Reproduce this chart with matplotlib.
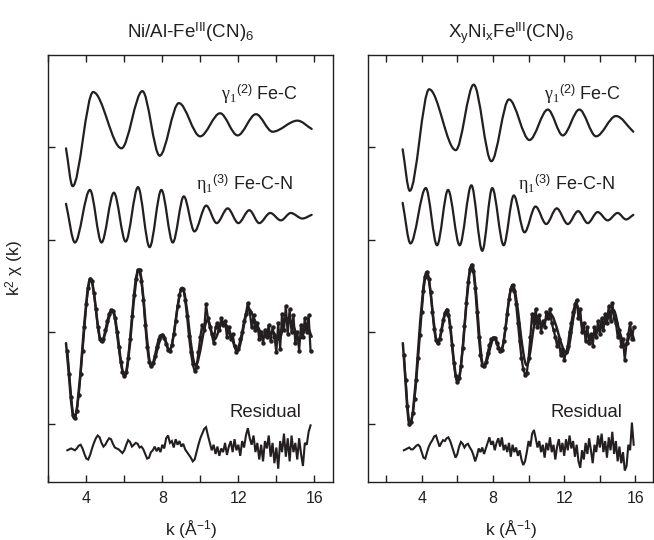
import numpy as np
import matplotlib
matplotlib.use("Agg")
import matplotlib.pyplot as plt
from matplotlib.path import Path
from matplotlib.patches import PathPatch
from matplotlib.ticker import FixedLocator, NullFormatter

plt.rcParams['font.family'] = ['Liberation Sans', 'DejaVu Sans']
plt.rcParams['mathtext.fontset'] = 'custom'
plt.rcParams['mathtext.rm'] = 'Liberation Serif'
plt.rcParams['mathtext.it'] = 'Liberation Serif:italic'
plt.rcParams['mathtext.sf'] = 'Liberation Sans'
plt.rcParams['mathtext.bf'] = 'Liberation Sans:bold'

INK = '#231f20'

# ---------------- Ni/Al-Fe(III)(CN)6 ----------------
# single-scattering Fe-C path (k, offset chi)
gamma_L_k = [2.93, 3.28, 4.36, 5.85, 6.95, 7.86, 8.87, 9.99, 11.04, 11.96, 12.93, 13.80, 15.11, 15.86]
gamma_L_y = [2.99, 2.58, 3.60, 2.99, 3.61, 2.91, 3.48, 3.12, 3.37, 3.13, 3.36, 3.17, 3.29, 3.20]
# multiple-scattering Fe-C-N path
eta_L_k = [2.93, 3.40, 4.19, 4.80, 5.45, 6.07, 6.72, 7.33, 7.95, 8.55, 9.13, 9.69, 10.31,
           10.86, 11.44, 12.00, 12.58, 13.10, 13.68, 14.24, 14.76, 15.37, 15.86]
eta_L_y = [2.39, 1.97, 2.54, 1.97, 2.51, 1.98, 2.57, 1.92, 2.54, 1.97, 2.47, 2.09, 2.37,
           2.18, 2.34, 2.18, 2.32, 2.18, 2.29, 2.21, 2.29, 2.23, 2.27]
# total fit
fit_L_k = [2.93, 3.36, 4.22, 4.80, 5.38, 6.02, 6.77, 7.42, 8.03, 8.38, 9.05, 9.75, 10.39,
           10.74, 11.18, 11.45, 11.96, 12.54, 12.93, 13.36, 13.80, 14.15, 14.50, 14.86,
           15.20, 15.63, 15.86]
fit_L_y = [0.88, 0.065, 1.58, 0.895, 1.24, 0.52, 1.68, 0.63, 0.97, 0.80, 1.48, 0.64, 1.13,
           0.92, 1.11, 1.05, 0.80, 1.25, 1.10, 0.95, 1.00, 0.92, 1.15, 1.08,
           0.92, 1.05, 0.95]
# measured k^2 chi, 0.1 A^-1 steps from k = 3.0
data_L = [0.80, 0.55, 0.30, 0.10, 0.07, 0.15, 0.32, 0.55, 0.80, 1.06,
          1.30, 1.48, 1.58, 1.55, 1.42, 1.25, 1.06, 0.93, 0.90, 0.93,
          1.02, 1.12, 1.20, 1.24, 1.23, 1.15, 1.00, 0.84, 0.68, 0.57,
          0.52, 0.57, 0.72, 0.93, 1.17, 1.40, 1.58, 1.67, 1.67, 1.55,
          1.35, 1.08, 0.84, 0.68, 0.63, 0.66, 0.74, 0.84, 0.92, 0.96,
          0.97, 0.94, 0.87, 0.81, 0.80, 0.86, 0.98, 1.12, 1.28, 1.40,
          1.47, 1.47, 1.35, 1.17, 0.96, 0.78, 0.65, 0.58, 0.62, 0.78,
          0.95, 1.08, 1.02, 1.30, 1.15, 1.05, 0.98, 0.88, 1.05, 1.10,
          1.02, 1.15, 1.08, 1.12, 0.95, 1.05, 0.92, 0.98, 0.85, 0.78,
          0.82, 0.92, 1.00, 1.12, 1.20, 1.32, 1.22, 1.05, 1.18, 1.02,
          1.10, 0.92, 1.00, 0.88, 1.02, 0.95, 1.08, 0.90, 1.05, 0.95,
          0.78, 1.10, 0.82, 1.20, 1.02, 1.28, 0.98, 1.25, 1.00, 1.18,
          0.88, 1.00, 0.80, 1.08, 0.95, 1.15, 1.00, 1.18, 0.80]
resid_L = [-0.28, -0.27, -0.26, -0.27, -0.28, -0.26, -0.23, -0.22, -0.26, -0.32,
           -0.37, -0.38, -0.33, -0.26, -0.20, -0.15, -0.12, -0.14, -0.20, -0.24,
           -0.22, -0.18, -0.15, -0.16, -0.21, -0.25, -0.26, -0.27, -0.29, -0.31,
           -0.28, -0.22, -0.17, -0.19, -0.24, -0.22, -0.20, -0.21, -0.25, -0.24,
           -0.27, -0.32, -0.37, -0.36, -0.30, -0.28, -0.24, -0.29, -0.25, -0.30,
           -0.22, -0.26, -0.15, -0.12, -0.20, -0.18, -0.25, -0.16, -0.22, -0.18,
           -0.24, -0.21, -0.27, -0.30, -0.33, -0.36, -0.40, -0.38, -0.30, -0.22,
           -0.15, -0.10, -0.05, -0.03, -0.12, -0.20, -0.28, -0.22, -0.32, -0.24,
           -0.34, -0.26, -0.30, -0.20, -0.33, -0.24, -0.18, -0.30, -0.16, -0.28,
           -0.22, -0.34, -0.18, -0.25, -0.12, -0.04, -0.15, -0.22, -0.12, -0.30,
           -0.20, -0.38, -0.22, -0.40, -0.18, -0.26, -0.12, -0.35, -0.20, -0.42,
           -0.25, -0.48, -0.18, -0.30, -0.10, -0.35, -0.15, -0.40, -0.12, -0.30,
           -0.20, -0.38, -0.15, -0.32, -0.45, -0.20, -0.22, -0.08, -0.01]

# ---------------- XyNixFe(III)(CN)6 ----------------
gamma_R_k = [2.93, 3.33, 4.42, 5.91, 6.92, 7.91, 8.90, 10.05, 11.08, 11.92, 12.85, 13.79, 14.91, 15.88]
gamma_R_y = [2.98, 2.53, 3.63, 2.97, 3.68, 2.85, 3.52, 3.08, 3.41, 3.13, 3.41, 3.12, 3.34, 3.17]
eta_R_k = [2.93, 3.37, 4.23, 4.86, 5.48, 6.13, 6.79, 7.40, 7.96, 8.60, 9.17, 9.77, 10.39,
           10.99, 11.58, 12.20, 12.78, 13.32, 13.88, 14.44, 15.00, 15.47, 15.88]
eta_R_y = [2.40, 1.96, 2.56, 1.94, 2.54, 1.94, 2.59, 1.88, 2.56, 1.94, 2.48, 2.08, 2.36,
           2.17, 2.34, 2.17, 2.31, 2.18, 2.30, 2.21, 2.29, 2.22, 2.27]
fit_R_k = [2.94, 3.33, 4.28, 4.90, 5.42, 6.02, 6.82, 7.48, 8.08, 8.45, 9.10, 9.90, 10.46,
           10.75, 11.20, 12.14, 12.70, 13.08, 13.54, 13.92, 14.29, 14.76, 15.13, 15.42,
           15.78, 15.93]
fit_R_y = [0.88, -0.01, 1.65, 0.88, 1.24, 0.46, 1.73, 0.62, 0.94, 0.80, 1.51, 0.64, 1.17,
           1.08, 1.20, 0.77, 1.29, 1.02, 0.95, 1.02, 1.09, 1.24, 0.99, 0.85,
           0.99, 0.91]
data_R = [0.75, 0.48, 0.20, 0.01, 0.03, 0.12, 0.28, 0.48, 0.72, 0.97,
          1.22, 1.45, 1.60, 1.65, 1.58, 1.43, 1.22, 1.03, 0.91, 0.88,
          0.92, 1.02, 1.13, 1.21, 1.24, 1.19, 1.05, 0.86, 0.66, 0.52,
          0.46, 0.50, 0.63, 0.83, 1.07, 1.32, 1.54, 1.68, 1.73, 1.66,
          1.48, 1.22, 0.95, 0.75, 0.64, 0.63, 0.68, 0.77, 0.86, 0.92,
          0.94, 0.94, 0.88, 0.83, 0.80, 0.81, 0.90, 1.04, 1.20, 1.36,
          1.47, 1.51, 1.45, 1.30, 1.10, 0.90, 0.72, 0.60, 0.54, 0.56,
          0.72, 0.95, 1.20, 1.10, 1.25, 1.05, 1.18, 1.00, 1.12, 1.05,
          1.22, 1.15, 1.25, 1.10, 1.02, 0.95, 0.85, 0.92, 0.75, 0.82,
          0.70, 0.78, 0.85, 1.00, 1.10, 1.22, 1.30, 1.35, 1.15, 1.25,
          1.00, 1.10, 0.90, 1.05, 0.88, 0.98, 0.85, 1.05, 0.95, 1.12,
          0.98, 1.15, 1.02, 1.20, 1.10, 1.28, 1.12, 1.32, 1.15, 1.10,
          0.95, 1.02, 0.85, 0.92, 0.70, 0.88, 0.98, 1.10, 0.92, 1.05]
resid_R = [-0.28, -0.27, -0.26, -0.25, -0.27, -0.27, -0.25, -0.23, -0.22, -0.24,
           -0.30, -0.36, -0.37, -0.30, -0.24, -0.20, -0.17, -0.13, -0.12, -0.18,
           -0.24, -0.20, -0.17, -0.18, -0.15, -0.14, -0.18, -0.24, -0.30, -0.36,
           -0.32, -0.24, -0.19, -0.21, -0.25, -0.22, -0.21, -0.25, -0.28, -0.33,
           -0.40, -0.34, -0.26, -0.30, -0.25, -0.32, -0.26, -0.20, -0.14, -0.22,
           -0.18, -0.28, -0.20, -0.15, -0.24, -0.14, -0.28, -0.22, -0.30, -0.20,
           -0.35, -0.22, -0.30, -0.25, -0.34, -0.28, -0.38, -0.44, -0.40, -0.30,
           -0.18, -0.24, -0.10, -0.06, -0.15, -0.25, -0.18, -0.30, -0.22, -0.36,
           -0.20, -0.28, -0.14, -0.30, -0.22, -0.38, -0.24, -0.16, -0.30, -0.20,
           -0.34, -0.16, -0.28, -0.12, -0.26, -0.18, -0.35, -0.22, -0.40, -0.47,
           -0.28, -0.38, -0.20, -0.32, -0.15, -0.28, -0.42, -0.22, -0.30, -0.12,
           -0.25, -0.10, -0.30, -0.18, -0.36, -0.14, -0.28, -0.08, -0.32, -0.18,
           -0.40, -0.24, -0.42, -0.30, -0.50, -0.45, -0.22, -0.28, 0.02, -0.22]

K_START = 3.0
K_STEP = 0.1

titles = ['Ni/Al-Fe$^{\\mathsf{III}}$(CN)$_{\\mathsf{6}}$',
          'X$_{\\mathsf{y}}$Ni$_{\\mathsf{x}}$Fe$^{\\mathsf{III}}$(CN)$_{\\mathsf{6}}$']
gamma_label = '$\\mathrm{\\gamma}_{\\mathrm{1}}{}^{\\mathsf{(2)}}$ Fe-C'
eta_label = '$\\mathrm{\\eta}_{\\mathrm{1}}{}^{\\mathsf{(3)}}$ Fe-C-N'


def smooth_curve(ax, xs, ys, lw=1.6):
    """Stroke a smooth Bezier path through the given points (monotone tangents)."""
    x = np.asarray(xs, float)
    y = np.asarray(ys, float)
    n = len(x)
    h = np.diff(x)
    d = np.diff(y) / h
    m = np.zeros(n)
    m[0], m[-1] = d[0], d[-1]
    for i in range(1, n - 1):
        if d[i - 1] * d[i] <= 0:
            m[i] = 0.0
        else:
            w1 = 2 * h[i] + h[i - 1]
            w2 = h[i] + 2 * h[i - 1]
            m[i] = (w1 + w2) / (w1 / d[i - 1] + w2 / d[i])
    verts = [(x[0], y[0])]
    codes = [Path.MOVETO]
    for i in range(n - 1):
        verts += [(x[i] + h[i] / 3, y[i] + m[i] * h[i] / 3),
                  (x[i + 1] - h[i] / 3, y[i + 1] - m[i + 1] * h[i] / 3),
                  (x[i + 1], y[i + 1])]
        codes += [Path.CURVE4] * 3
    ax.add_patch(PathPatch(Path(verts, codes), fill=False, lw=lw, ec=INK,
                           capstyle='round', joinstyle='round'))


fig = plt.figure(figsize=(6.54, 5.40), dpi=100)
ax_L = fig.add_axes([0.0739, 0.108, 0.4358, 0.790])
ax_R = fig.add_axes([0.5631, 0.108, 0.4358, 0.790])

panels = [
    (ax_L, (2, 17), gamma_L_k, gamma_L_y, eta_L_k, eta_L_y, fit_L_k, fit_L_y, data_L, resid_L,
     (11.09, 9.78, 13.42)),
    (ax_R, (1, 17), gamma_R_k, gamma_R_y, eta_R_k, eta_R_y, fit_R_k, fit_R_y, data_R, resid_R,
     (10.89, 9.40, 13.23)),
]

for idx, (ax, xl, gk, gy, ek, ey, fk, fy, dat, res, lab) in enumerate(panels):
    smooth_curve(ax, gk, gy)
    smooth_curve(ax, ek, ey)
    kd = K_START + K_STEP * np.arange(len(dat))
    kr = K_START + K_STEP * np.arange(len(res))
    ax.plot(kd, dat, color=INK, lw=1.6, marker='o', ms=3.2, mew=0, zorder=3,
            solid_joinstyle='miter')
    smooth_curve(ax, fk, fy, lw=1.8)
    ax.plot(kr, res, color=INK, lw=1.5, solid_joinstyle='miter')

    ax.text(lab[0], 3.51, gamma_label, fontsize=13, color=INK, ha='left', va='baseline')
    ax.text(lab[1], 2.54, eta_label, fontsize=13, color=INK, ha='left', va='baseline')
    ax.text(lab[2], 0.076, 'Residual', fontsize=13.3, color=INK, ha='center', va='baseline')

    ax.set_xlim(*xl)
    ax.set_ylim(-0.62, 4.0)
    ax.xaxis.set_major_locator(FixedLocator([4, 8, 12, 16]))
    ax.xaxis.set_minor_locator(FixedLocator([2, 6, 10, 14]))
    ax.xaxis.set_minor_formatter(NullFormatter())
    ax.yaxis.set_major_locator(FixedLocator([0, 1, 2, 3]))
    ax.set_yticklabels([])
    ax.tick_params(axis='x', which='both', direction='in', top=True, bottom=True,
                   length=5, width=1.0, color=INK, labelsize=11.5, labelcolor=INK, pad=7)
    ax.tick_params(axis='y', which='both', direction='in', left=True, right=False,
                   length=5, width=1.0, color=INK)
    for sp in ax.spines.values():
        sp.set_linewidth(1.0)
        sp.set_color(INK)

    ax.set_xlabel('k (Å$^{\\mathsf{-1}}$)', fontsize=12.5, color=INK)
    ax.xaxis.set_label_coords(0.5, -0.085)
    ax.set_title(titles[idx], fontsize=13.5, color=INK, pad=12)

ax_L.set_ylabel('k$^{\\mathsf{2}}$ χ (k)', fontsize=12.5, color=INK)
ax_L.yaxis.set_label_coords(-0.08, 0.5)

fig.savefig('out.png', dpi=100)
